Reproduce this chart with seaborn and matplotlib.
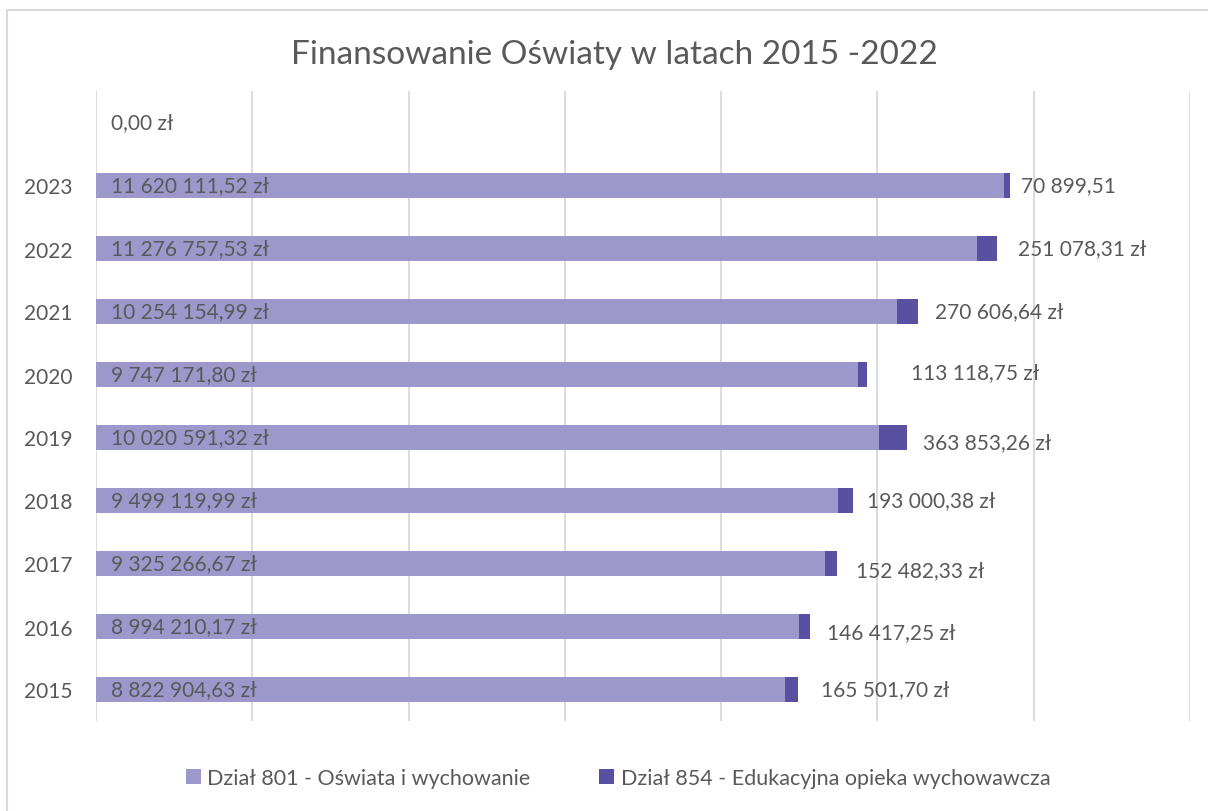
import matplotlib
matplotlib.use("Agg")
import matplotlib.pyplot as plt
from matplotlib.patches import Patch, Rectangle
from matplotlib.transforms import offset_copy
import seaborn as sns
import pandas as pd

# ---- data ----
years = ["", "2023", "2022", "2021", "2020", "2019", "2018", "2017", "2016", "2015"]
dzial_801 = [0.0, 11620111.52, 11276757.53, 10254154.99, 9747171.80, 10020591.32,
             9499119.99, 9325266.67, 8994210.17, 8822904.63]
dzial_854 = [0.0, 70899.51, 251078.31, 270606.64, 113118.75, 363853.26,
             193000.38, 152482.33, 146417.25, 165501.70]
series_names = ["Dział 801 - Oświata i wychowanie", "Dział 854 - Edukacyjna opieka wychowawcza"]
title = "Finansowanie Oświaty w latach 2015 -2022"
no_suffix_854 = ["2023"]

# ---- styles ----
C1 = "#9c98cb"
C2 = "#5a50a1"
TXT = "#595959"
GRID = "#d9d9d9"
FS = 15
# manual label offsets (points) for series 854 labels (dx, dy)
lab_off = [(0, 0), (8, 0), (15, 0), (12, 0), (32, 2), (11, -3), (10, 0), (14, -5), (12, -4), (16, 0)]

sns.set_theme(style="white")
plt.rcParams["font.family"] = ["Lato", "DejaVu Sans"]

def fmt(v, suffix=True):
    s = f"{v:,.2f}".replace(",", " ").replace(".", ",")
    return s + (" zł" if suffix else "")

df = pd.DataFrame({"rok": years, "d801": dzial_801, "d854": dzial_854})
df["total"] = df["d801"] + df["d854"]

fig = plt.figure(figsize=(12.08, 8.12), dpi=100)
ax = fig.add_axes([96/1208, 1 - 722/812, (1190-96)/1208, (722-92)/812])

sns.barplot(data=df, y="rok", x="total", order=years, color=C2, width=0.4,
            orient="h", ax=ax, saturation=1, edgecolor="none")
sns.barplot(data=df, y="rok", x="d801", order=years, color=C1, width=0.4,
            orient="h", ax=ax, saturation=1, edgecolor="none")

ax.set_xlim(0, 14000000)
ax.set_xticks(range(0, 14000001, 2000000))
ax.set_xticklabels([])
ax.tick_params(axis="both", length=0)
ax.grid(axis="x", color=GRID, linewidth=1.3)
ax.grid(axis="y", visible=False)
ax.set_axisbelow(True)
for s in ax.spines.values():
    s.set_visible(False)
ax.set_xlabel("")
ax.set_ylabel("")
ax.tick_params(axis="y", labelsize=FS, labelcolor=TXT, pad=17)

# data labels
for i, yr in enumerate(years):
    ax.text(2000000 * 15/156.4, i, fmt(dzial_801[i]), va="center", ha="left",
            fontsize=FS, color=TXT)
    if yr != "":
        dx, dy = lab_off[i]
        tr = offset_copy(ax.transData, fig=fig, x=dx, y=dy, units="points")
        ax.text(dzial_801[i] + dzial_854[i], i, fmt(dzial_854[i], yr not in no_suffix_854),
                va="center", ha="left", fontsize=FS, color=TXT, transform=tr)

fig.text(614/1208, 1 - 55/812, title, ha="center", va="center", fontsize=24, color=TXT)

handles = [Patch(facecolor=C1, edgecolor="none"), Patch(facecolor=C2, edgecolor="none")]
fig.legend(handles, series_names, loc="center", bbox_to_anchor=(618/1208, 1 - 779/812),
           ncol=2, frameon=False, fontsize=15.5, labelcolor=TXT, handlelength=0.7,
           handleheight=0.7, handletextpad=0.3, columnspacing=3.2)

fig.patches.append(Rectangle((7/1208, -0.05), 1.2, 1 - 11/812 + 0.05, transform=fig.transFigure,
                             fill=False, edgecolor=GRID, linewidth=1.5))

fig.savefig("out.png", dpi=100)
